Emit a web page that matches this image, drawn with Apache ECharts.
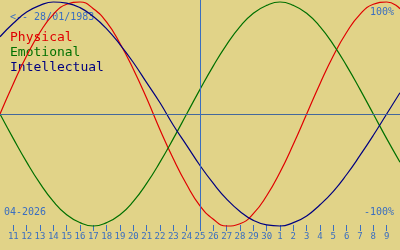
<!DOCTYPE html>
<html>
<head>
<meta charset="utf-8">
<script src="https://cdn.jsdelivr.net/npm/echarts@6/dist/echarts.min.js"></script>
<style>
html,body{margin:0;padding:0;background:#e1d388;}
#c{width:400px;height:250px;}
</style>
</head>
<body>
<div id="c"></div>
<script>
// Day-of-month labels, 10 Apr 2026 .. 10 May 2026
var days = ['10','11','12','13','14','15','16','17','18','19','20','21','22','23','24','25','26','27','28','29','30','1','2','3','4','5','6','7','8','9','10'];
var today = '25';
var birthText = '<-- 28/01/1983';
var monthText = '04-2026';
var topLabel = '100%';
var bottomLabel = '-100%';
var seriesNames = ['Physical', 'Emotional', 'Intellectual'];
var physical = [0, 0.27, 0.52, 0.73, 0.89, 0.98, 1.00, 0.94, 0.82, 0.63, 0.40, 0.14, -0.14, -0.40, -0.63, -0.82, -0.94, -1.00, -0.98, -0.89, -0.73, -0.52, -0.27, 0, 0.27, 0.52, 0.73, 0.89, 0.98, 1.00, 0.94];
var emotional = [0, -0.22, -0.43, -0.62, -0.78, -0.90, -0.97, -1.00, -0.97, -0.90, -0.78, -0.62, -0.43, -0.22, 0, 0.22, 0.43, 0.62, 0.78, 0.90, 0.97, 1.00, 0.97, 0.90, 0.78, 0.62, 0.43, 0.22, 0, -0.22, -0.43];
var intellectual = [0.69, 0.81, 0.91, 0.97, 1.00, 0.99, 0.95, 0.87, 0.76, 0.62, 0.46, 0.28, 0.10, -0.10, -0.28, -0.46, -0.62, -0.76, -0.87, -0.95, -0.99, -1.00, -0.97, -0.91, -0.81, -0.69, -0.54, -0.37, -0.19, 0, 0.19];

var colors = ['#e00000', '#007000', '#000080'];
var blue = '#3a6ec0';
var mono = '"DejaVu Sans Mono", monospace';
var last = days.length - 1;

var chart = echarts.init(document.getElementById('c'), null, {renderer: 'canvas'});
function mkSeries(name, data, color, extra) {
  var s = {
    name: name, type: 'line', data: data, smooth: true, showSymbol: false,
    silent: true, animation: false,
    lineStyle: {color: color, width: 1.2}, itemStyle: {color: color}, z: 3
  };
  if (extra) s.markLine = extra;
  return s;
}
chart.setOption({
  backgroundColor: '#e1d388',
  animation: false,
  grid: {left: 0, right: 0, top: 0, height: 231},
  xAxis: {
    type: 'category', data: days, boundaryGap: false,
    axisLine: {show: false, onZero: false},
    axisTick: {show: true, inside: true, length: 6, lineStyle: {color: blue, width: 1},
      interval: function (i) { return i > 0 && i < last; }},
    axisLabel: {color: blue, fontFamily: mono, fontSize: 9, margin: 1,
      interval: function (i) { return i > 0 && i < last; }},
    splitLine: {show: false}
  },
  yAxis: {
    type: 'value', min: -1.0446, max: 1.0179, show: false, splitLine: {show: false}
  },
  series: [
    mkSeries(seriesNames[0], physical, colors[0], {
      silent: true, symbol: 'none', label: {show: false},
      data: [
        {yAxis: 0, lineStyle: {color: '#44689c', width: 1, type: 'solid'}},
        {xAxis: today, lineStyle: {color: blue, width: 1, type: 'solid'}}
      ]
    }),
    mkSeries(seriesNames[1], emotional, colors[1]),
    mkSeries(seriesNames[2], intellectual, colors[2])
  ],
  graphic: [
    {type: 'text', left: 10, top: 12, style: {text: birthText, fill: blue, font: '10px ' + mono}},
    {type: 'text', left: 10, top: 31, style: {text: seriesNames[0], fill: colors[0], font: '13px ' + mono}},
    {type: 'text', left: 10, top: 46, style: {text: seriesNames[1], fill: colors[1], font: '13px ' + mono}},
    {type: 'text', left: 10, top: 61, style: {text: seriesNames[2], fill: colors[2], font: '13px ' + mono}},
    {type: 'text', right: 6, top: 7, style: {text: topLabel, fill: blue, font: '10px ' + mono}},
    {type: 'text', left: 4, top: 207, style: {text: monthText, fill: blue, font: '10px ' + mono}},
    {type: 'text', right: 6, top: 207, style: {text: bottomLabel, fill: blue, font: '10px ' + mono}}
  ]
});
</script>
</body>
</html>
